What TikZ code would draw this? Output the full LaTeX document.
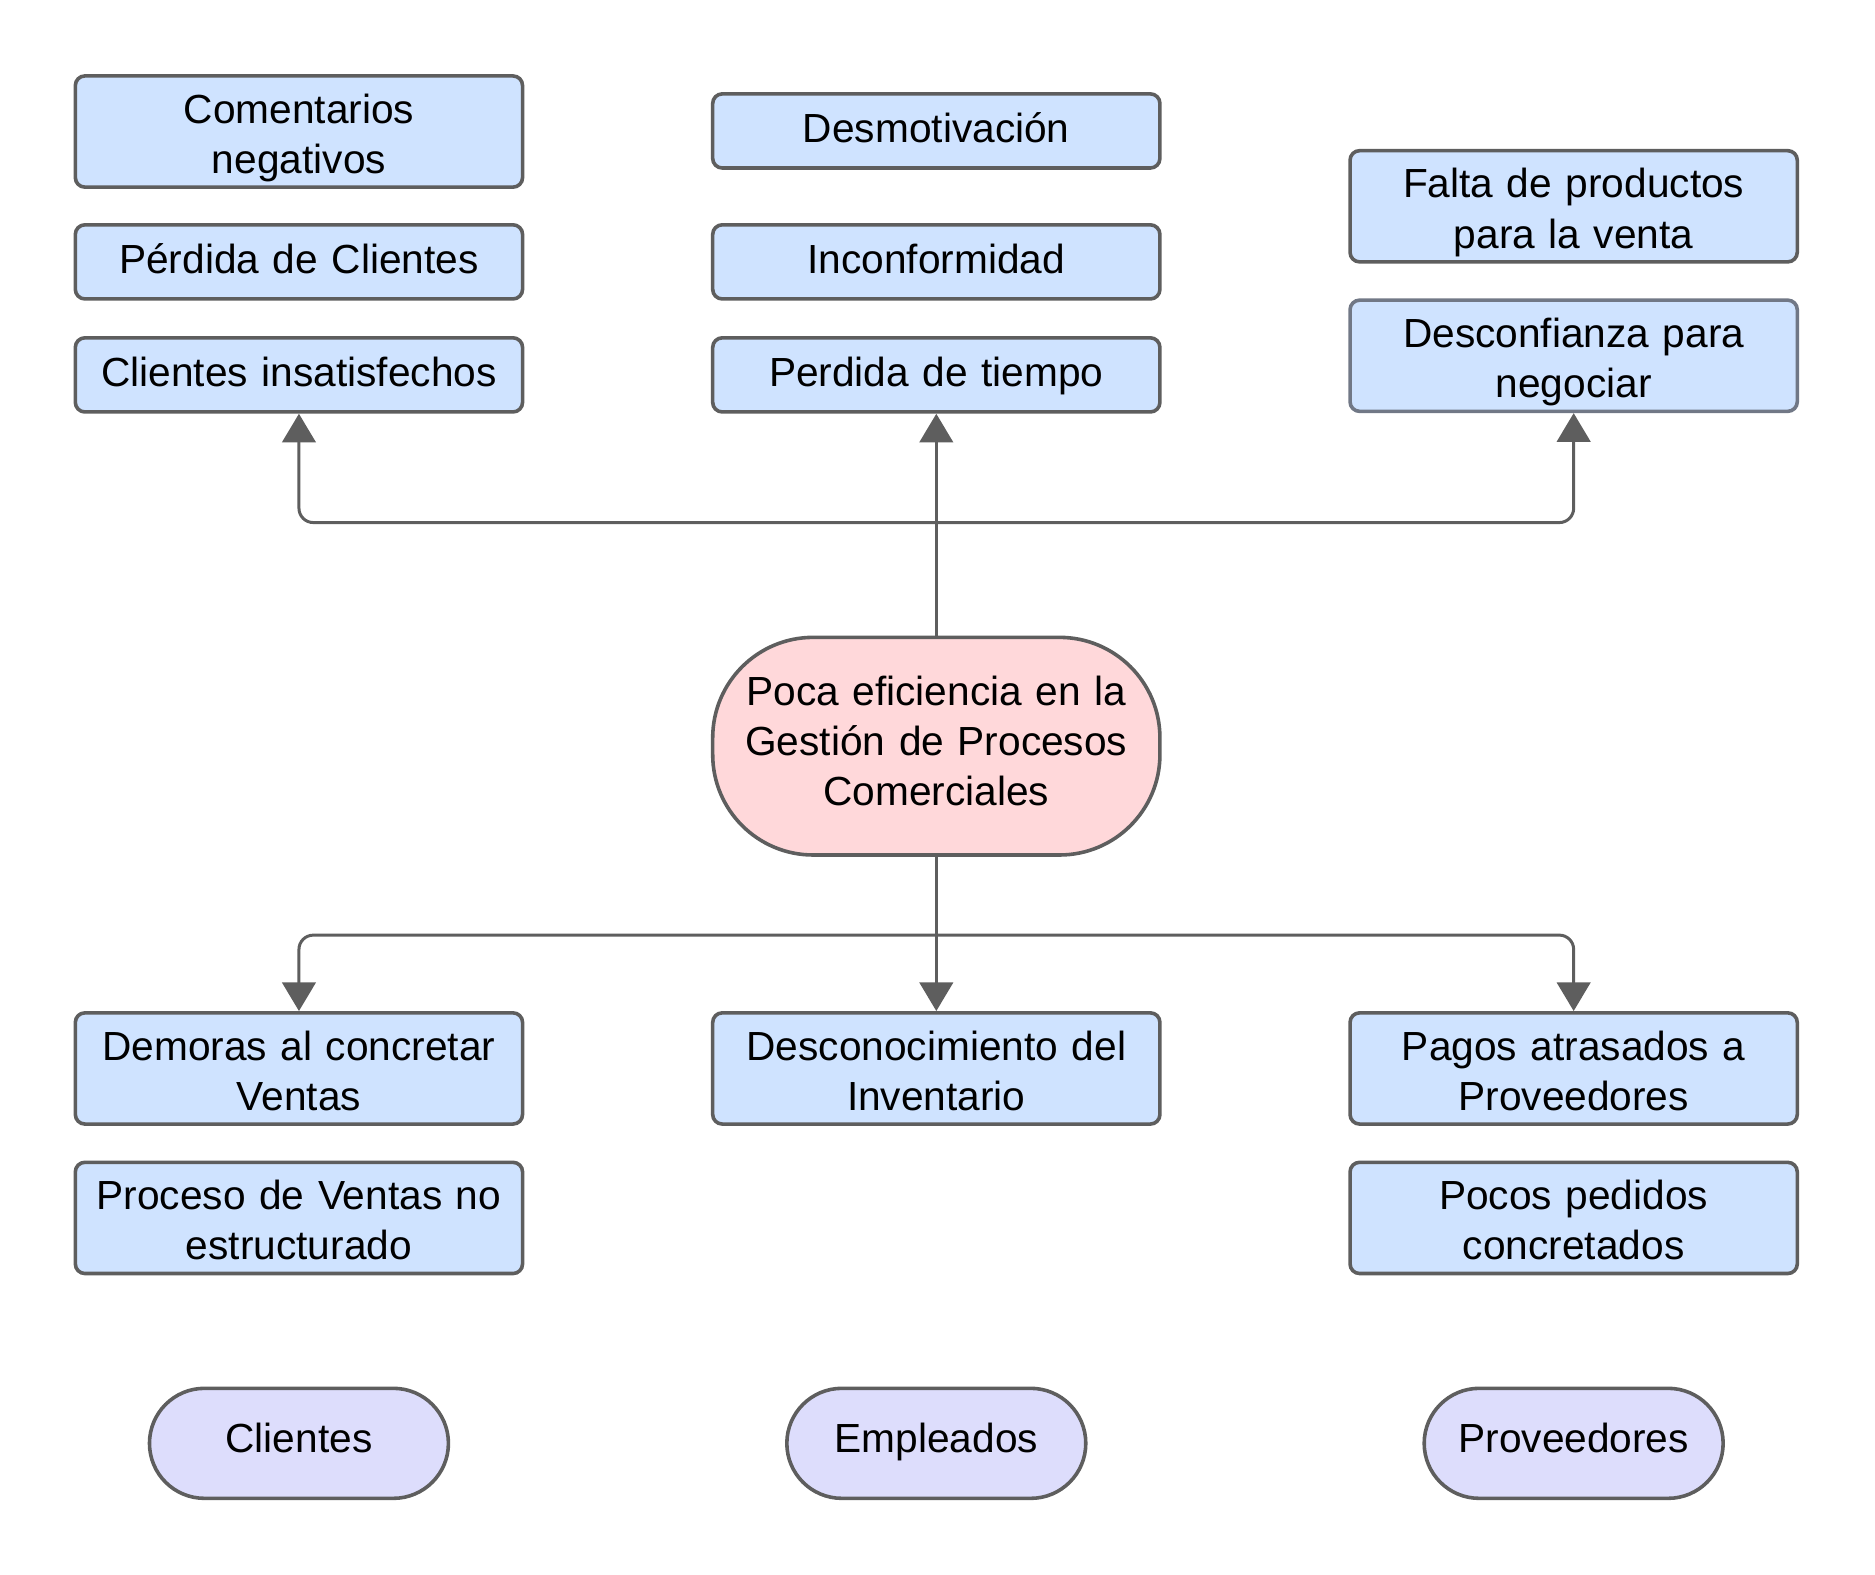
\documentclass[tikz,border=0pt]{standalone}
\usepackage{fontspec}
\setmainfont{Liberation Sans}
\usetikzlibrary{arrows.meta}
\definecolor{azul}{HTML}{CFE3FF}
\definecolor{rosa}{HTML}{FFD8DA}
\definecolor{lila}{HTML}{DDDDFC}
\definecolor{borde}{HTML}{5E5E5E}
\definecolor{bordeazul}{HTML}{717886}
\tikzset{
caja/.style={draw=borde, line width=1.5pt, fill=azul, rounded corners=4pt,
  minimum width=187pt, text width=178pt, align=center, inner sep=0pt,
  font=\fontsize{17}{21}\selectfont},
uno/.style={caja, minimum height=31pt, text height=13pt, text depth=3pt},
dos/.style={caja, minimum height=46.5pt, text height=13pt, text depth=20pt},
centro/.style={draw=borde, line width=1.5pt, fill=rosa, rounded corners=42pt,
  minimum width=187pt, minimum height=91pt, text width=178pt, align=center,
  inner sep=0pt, text height=13pt, text depth=47pt,
  font=\fontsize{17}{21}\selectfont},
actor/.style={draw=borde, line width=1.5pt, fill=lila, rounded corners=23pt,
  minimum width=125pt, minimum height=46pt, inner sep=0pt,
  text height=12pt, text depth=4pt, font=\fontsize{17}{21}\selectfont},
flecha/.style={draw=borde, line width=1.25pt, rounded corners=6pt,
  -{Triangle[width=14pt,length=12pt]}}
}
\begin{document}
\begin{tikzpicture}[x=0.5pt,y=-0.5pt]
\useasboundingbox (0,0) rectangle (1568,1317);

% efectos
\node[dos] (com) at (250,110) {Comentarios\\negativos};
\node[uno] (per) at (250,219) {Pérdida de Clientes};
\node[uno] (ins) at (250,313.5) {Clientes insatisfechos};
\node[uno] (des) at (783,109.5) {Desmotivación};
\node[uno] (inc) at (783,219) {Inconformidad};
\node[uno] (tie) at (783,313.5) {Perdida de tiempo};
\node[dos] (fal) at (1316,172.5) {Falta de productos\\para la venta};
\node[dos, draw=bordeazul] (dco) at (1316,297.5) {Desconfianza para\\negociar};

% problema
\node[centro] (pc) at (783,624) {Poca eficiencia en la\\Gestión de Procesos\\Comerciales};

% causas
\node[dos] (dem) at (250,893.5) {Demoras al concretar\\Ventas};
\node[dos] (pro) at (250,1018.5) {Proceso de Ventas no\\estructurado};
\node[dos] (inv) at (783,893.5) {Desconocimiento del\\Inventario};
\node[dos] (pag) at (1316,893.5) {Pagos atrasados a\\Proveedores};
\node[dos] (ped) at (1316,1018.5) {Pocos pedidos\\concretados};

% actores
\node[actor] (cli) at (250,1207) {Clientes};
\node[actor] (emp) at (783,1207) {Empleados};
\node[actor] (prv) at (1316,1207) {Proveedores};

\coordinate (arriba) at (783,437);
\coordinate (abajo) at (783,782);
\draw[flecha] (pc.north) -- (tie.south);
\draw[flecha] (arriba) -| (ins.south);
\draw[flecha] (arriba) -| (dco.south);
\draw[flecha] (pc.south) -- (inv.north);
\draw[flecha] (abajo) -| (dem.north);
\draw[flecha] (abajo) -| (pag.north);
\end{tikzpicture}
\end{document}
